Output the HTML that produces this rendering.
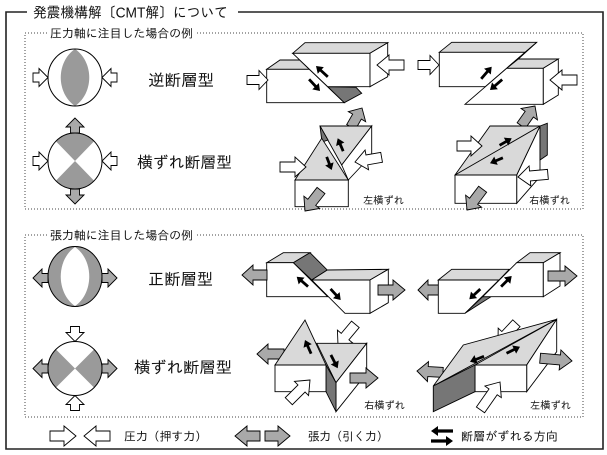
<!DOCTYPE html>
<html><head><meta charset="utf-8">
<style>
html,body{margin:0;padding:0;background:#fff;}
svg{display:block;}
text{font-family:"Liberation Sans","IPAGothic","Noto Sans CJK JP",sans-serif;fill:#111;}
.w{fill:#fff;stroke:#000;stroke-width:0.9;stroke-linejoin:miter;}
.lg{fill:#d9d9d9;stroke:#000;stroke-width:0.9;}
.dk{fill:#767676;stroke:#000;stroke-width:0.9;}
.ga{fill:#a9a9a9;stroke:#000;stroke-width:0.9;}
.bb{fill:#9a9a9a;}
.bk{fill:#000;}
</style></head><body>
<svg width="607" height="455" viewBox="0 0 607 455" xmlns="http://www.w3.org/2000/svg">
<rect width="607" height="455" fill="#fff"/>
<!-- Frame -->
<path d="M27,12 H6 V449 H603 V12 H238" fill="none" stroke="#222" stroke-width="1.6"/>
<text x="33" y="17.5" font-size="14.5" textLength="195" lengthAdjust="spacingAndGlyphs">発震機構解〔CMT解〕について</text>

<!-- Dotted boxes -->
<path d="M47,33 H25 V209 H583 V33 H197" fill="none" stroke="#444" stroke-width="1" stroke-dasharray="1 2"/>
<text x="50" y="37.4" font-size="12" textLength="143" lengthAdjust="spacingAndGlyphs">圧力軸に注目した場合の例</text>
<path d="M47,235 H25 V417 H583 V235 H197" fill="none" stroke="#444" stroke-width="1" stroke-dasharray="1 2"/>
<text x="50" y="239.4" font-size="12" textLength="143" lengthAdjust="spacingAndGlyphs">張力軸に注目した場合の例</text>

<!-- Ball 1: reverse -->
<ellipse cx="75" cy="77.5" rx="27" ry="28.5" fill="#fff"/>
<path class="bb" d="M75,49 C56,62 56,93 75,106 C94,93 94,62 75,49 Z"/>
<ellipse cx="75" cy="77.5" rx="27" ry="28.5" fill="none" stroke="#000" stroke-width="1"/>
<polygon class="w" points="0,0 -9,-9 -9,-4.5 -15,-4.5 -15,4.5 -9,4.5 -9,9" transform="translate(48,77.5)"/>
<polygon class="w" points="0,0 -9,-9 -9,-4.5 -15,-4.5 -15,4.5 -9,4.5 -9,9" transform="translate(102,77.5) rotate(180)"/>
<text x="148" y="86" font-size="16.5" textLength="66" lengthAdjust="spacingAndGlyphs">逆断層型</text>

<!-- Ball 2: strike-slip (pressure) -->
<ellipse cx="75" cy="161" rx="27" ry="28" fill="#fff"/>
<path class="bb" d="M75,161 L55.9,141.2 A27,28 0 0,1 94.1,141.2 Z"/>
<path class="bb" d="M75,161 L94.1,180.8 A27,28 0 0,1 55.9,180.8 Z"/>
<ellipse cx="75" cy="161" rx="27" ry="28" fill="none" stroke="#000" stroke-width="1"/>
<polygon class="w" points="0,0 -9,-9 -9,-4.5 -15,-4.5 -15,4.5 -9,4.5 -9,9" transform="translate(48,161)"/>
<polygon class="w" points="0,0 -9,-9 -9,-4.5 -15,-4.5 -15,4.5 -9,4.5 -9,9" transform="translate(102,161) rotate(180)"/>
<polygon class="ga" points="0,0 -9,-9 -9,-4.5 -15,-4.5 -15,4.5 -9,4.5 -9,9" transform="translate(75,118) rotate(-90)"/>
<polygon class="ga" points="0,0 -9,-9 -9,-4.5 -15,-4.5 -15,4.5 -9,4.5 -9,9" transform="translate(75,204) rotate(90)"/>
<text x="137" y="168" font-size="16" textLength="95" lengthAdjust="spacingAndGlyphs">横ずれ断層型</text>

<!-- Ball 3: normal -->
<ellipse cx="75" cy="276.5" rx="27" ry="30" class="bb"/>
<path fill="#fff" d="M75,247 C56,260 56,293 75,306 C94,293 94,260 75,247 Z"/>
<ellipse cx="75" cy="276.5" rx="27" ry="30" fill="none" stroke="#000" stroke-width="1"/>
<polygon class="ga" points="0,0 -9,-9 -9,-4.5 -15,-4.5 -15,4.5 -9,4.5 -9,9" transform="translate(33,278) rotate(180)"/>
<polygon class="ga" points="0,0 -9,-9 -9,-4.5 -15,-4.5 -15,4.5 -9,4.5 -9,9" transform="translate(117,278)"/>
<text x="148" y="285" font-size="16.5" textLength="65" lengthAdjust="spacingAndGlyphs">正断層型</text>

<!-- Ball 4: strike-slip (tension) -->
<ellipse cx="75" cy="368.5" rx="27" ry="27" fill="#fff"/>
<path class="bb" d="M75,368.5 L55.9,387.6 A27,27 0 0,1 55.9,349.4 Z"/>
<path class="bb" d="M75,368.5 L94.1,349.4 A27,27 0 0,1 94.1,387.6 Z"/>
<ellipse cx="75" cy="368.5" rx="27" ry="27" fill="none" stroke="#000" stroke-width="1"/>
<polygon class="w" points="0,0 -9,-9 -9,-4.5 -15,-4.5 -15,4.5 -9,4.5 -9,9" transform="translate(75,341.5) rotate(90)"/>
<polygon class="w" points="0,0 -9,-9 -9,-4.5 -15,-4.5 -15,4.5 -9,4.5 -9,9" transform="translate(75,395.5) rotate(-90)"/>
<polygon class="ga" points="0,0 -9,-9 -9,-4.5 -15,-4.5 -15,4.5 -9,4.5 -9,9" transform="translate(33,368.5) rotate(180)"/>
<polygon class="ga" points="0,0 -9,-9 -9,-4.5 -15,-4.5 -15,4.5 -9,4.5 -9,9" transform="translate(117,368.5)"/>
<text x="134" y="373" font-size="16" textLength="98" lengthAdjust="spacingAndGlyphs">横ずれ断層型</text>

<!-- Block A: reverse fault (left) -->
<polygon class="lg" points="266.7,69.3 280,60 299.7,60 309.3,69.3"/>
<polygon class="w" points="266.7,69.3 309.3,69.3 344.3,102.7 266.7,102.7"/>
<polygon class="dk" points="327.7,86.7 356,87.3 361.7,93.3 344.3,102.7"/>
<polygon class="lg" points="292.7,53.3 305,42.7 387.7,42.7 370,53.3"/>
<polygon class="w" points="292.7,53.3 370,53.3 370,86.7 327.7,86.7"/>
<polygon class="w" points="370,53.3 387.7,42.7 387.7,76.7 370,86.7"/>
<polygon class="w" points="0,0 -9,-9.5 -9,-4.5 -21,-4.5 -21,4.5 -9,4.5 -9,9.5" transform="translate(268,80)"/>
<polygon class="w" points="0,0 -12,-10 -12,-5 -27,-5 -27,5 -12,5 -12,10" transform="translate(377,65) rotate(180)"/>
<polygon class="bk" points="0,0 -6.5,-4.5 -6.5,-1.4 -16,-1.4 -16,1.4 -6.5,1.4 -6.5,4.5" transform="translate(316,66) rotate(-137.5)"/>
<polygon class="bk" points="0,0 -6.5,-4.5 -6.5,-1.4 -16,-1.4 -16,1.4 -6.5,1.4 -6.5,4.5" transform="translate(320,91) rotate(47)"/>

<!-- Block B: reverse fault (right) -->
<polygon class="lg" points="439.3,52.3 451.7,42.3 536.7,42.3 525,52.3"/>
<polygon class="w" points="439.3,52.3 525,52.3 485.3,86.7 439.3,86.7"/>
<polygon class="dk" points="536.7,42.3 506.7,68.3 518.3,59"/>
<polygon class="lg" points="506.7,68.3 518.3,59 558.3,59 543.3,68.3"/>
<polygon class="w" points="506.7,68.3 543.3,68.3 543.3,104.3 465,104.3"/>
<polygon class="w" points="543.3,68.3 558.3,59 558.3,95 543.3,104.3"/>
<polygon class="w" points="0,0 -9,-9.5 -9,-4.5 -21,-4.5 -21,4.5 -9,4.5 -9,9.5" transform="translate(439,65)"/>
<polygon class="w" points="0,0 -12,-10 -12,-5 -27,-5 -27,5 -12,5 -12,10" transform="translate(550,80) rotate(180)"/>
<polygon class="bk" points="0,0 -6.5,-4.5 -6.5,-1.4 -16,-1.4 -16,1.4 -6.5,1.4 -6.5,4.5" transform="translate(491.7,66.7) rotate(-49)"/>
<polygon class="bk" points="0,0 -6.5,-4.5 -6.5,-1.4 -16,-1.4 -16,1.4 -6.5,1.4 -6.5,4.5" transform="translate(490,90) rotate(139.5)"/>

<!-- Block C: left-lateral (pressure) -->
<polygon class="ga" points="0,0 -10,-10 -10,-5 -22,-5 -22,5 -10,5 -10,10" transform="translate(362,108) rotate(-60)"/>
<polygon class="lg" points="320,126 371.7,126 341.7,165"/>
<polygon class="w" points="341.7,165 371.7,126 371.7,155 348.3,180"/>
<polygon class="dk" points="320,126 328,140 322,142"/>
<polygon class="lg" points="295,180 321.7,138.3 348.3,180"/>
<polygon class="w" points="295,180 348.3,180 348.3,206.7 295,206.7"/>
<polygon class="ga" points="0,0 -11,-10 -11,-5 -26,-5 -26,5 -11,5 -11,10" transform="translate(305,211) rotate(128)"/>
<polygon class="w" points="0,0 -11,-10 -11,-5 -26,-5 -26,5 -11,5 -11,10" transform="translate(306,167)"/>
<polygon class="w" points="0,0 -12,-10 -12,-5 -27,-5 -27,5 -12,5 -12,10" transform="translate(355,162) rotate(170)"/>
<polygon class="bk" points="0,0 -6.5,-4.5 -6.5,-1.4 -14,-1.4 -14,1.4 -6.5,1.4 -6.5,4.5" transform="translate(337.7,138.3) rotate(-113)"/>
<polygon class="bk" points="0,0 -6.5,-4.5 -6.5,-1.4 -14,-1.4 -14,1.4 -6.5,1.4 -6.5,4.5" transform="translate(331.7,170) rotate(69)"/>
<text x="363" y="204" font-size="10.5" textLength="41" lengthAdjust="spacingAndGlyphs">左横ずれ</text>

<!-- Block D: right-lateral (pressure) -->
<polygon class="ga" points="0,0 -10,-10 -10,-5 -24,-5 -24,5 -10,5 -10,10" transform="translate(535,106) rotate(-55)"/>
<polygon class="w" points="516.7,175 540,126 540,176.7 516.7,203.3"/>
<polygon class="dk" points="540,126 547.3,123.3 547.3,155 540,160"/>
<polygon class="lg" points="455,175 490,126 540,126 516.7,175"/>
<line x1="455" y1="175" x2="540" y2="126" stroke="#000" stroke-width="0.9"/>
<polygon class="w" points="455,175 516.7,175 516.7,203.3 455,203.3"/>
<polygon class="ga" points="0,0 -11,-10 -11,-5 -26,-5 -26,5 -11,5 -11,10" transform="translate(467,210) rotate(127)"/>
<polygon class="w" points="0,0 -11,-10 -11,-5 -25,-5 -25,5 -11,5 -11,10" transform="translate(482,146)"/>
<polygon class="w" points="0,0 -12,-10 -12,-5 -30,-5 -30,5 -12,5 -12,10" transform="translate(518,177) rotate(175)"/>
<polygon class="bk" points="0,0 -6.5,-4.5 -6.5,-1.4 -14,-1.4 -14,1.4 -6.5,1.4 -6.5,4.5" transform="translate(511.7,138.3) rotate(-30)"/>
<polygon class="bk" points="0,0 -6.5,-4.5 -6.5,-1.4 -14,-1.4 -14,1.4 -6.5,1.4 -6.5,4.5" transform="translate(490,163.3) rotate(157)"/>
<text x="529" y="204" font-size="10.5" textLength="41" lengthAdjust="spacingAndGlyphs">右横ずれ</text>

<!-- Block E: normal fault (left) -->
<polygon class="lg" points="266.7,262.7 283.3,252.7 310,252.7 293.3,262.7"/>
<polygon class="dk" points="293.3,262.7 310,252.7 327.3,270 311.7,280"/>
<polygon class="w" points="266.7,262.7 293.3,262.7 327.7,296.7 266.7,296.7"/>
<polygon class="lg" points="311.7,280 327.3,270 388.3,269.3 370,280"/>
<polygon class="w" points="311.7,280 370,280 370,313.3 345,313.3"/>
<polygon class="w" points="370,280 388.3,269.3 388.3,302.7 370,313.3"/>
<polygon class="ga" points="0,0 -11,-10 -11,-5 -25,-5 -25,5 -11,5 -11,10" transform="translate(242,275) rotate(180)"/>
<polygon class="ga" points="0,0 -12,-10 -12,-5 -27,-5 -27,5 -12,5 -12,10" transform="translate(405,290)"/>
<polygon class="bk" points="0,0 -6.5,-4.5 -6.5,-1.4 -15,-1.4 -15,1.4 -6.5,1.4 -6.5,4.5" transform="translate(296.7,276.7) rotate(-139)"/>
<polygon class="bk" points="0,0 -6.5,-4.5 -6.5,-1.4 -15,-1.4 -15,1.4 -6.5,1.4 -6.5,4.5" transform="translate(340.7,300) rotate(47.5)"/>

<!-- Block F: normal fault (right) -->
<polygon class="ga" points="0,0 -10,-10 -10,-5 -22,-5 -22,5 -10,5 -10,10" transform="translate(418,290) rotate(180)"/>
<polygon class="lg" points="438.3,280 451.7,269.3 509.3,269.3 499,280"/>
<polygon class="w" points="438.3,280 499,280 465,313.3 438.3,313.3"/>
<polygon class="dk" points="465,313.3 482.7,296.7 491,296.7"/>
<polygon class="lg" points="516.7,262.7 530,252.7 560,252.7 543.3,262.7"/>
<polygon class="w" points="516.7,262.7 543.3,262.7 543.3,296.7 482.7,296.7"/>
<polygon class="w" points="543.3,262.7 560,252.7 560,286 543.3,296.7"/>
<polygon class="ga" points="0,0 -12,-10 -12,-5 -29,-5 -29,5 -12,5 -12,10" transform="translate(577,276)"/>
<polygon class="bk" points="0,0 -6.5,-4.5 -6.5,-1.4 -15,-1.4 -15,1.4 -6.5,1.4 -6.5,4.5" transform="translate(511.7,276) rotate(-45)"/>
<polygon class="bk" points="0,0 -6.5,-4.5 -6.5,-1.4 -15,-1.4 -15,1.4 -6.5,1.4 -6.5,4.5" transform="translate(469.3,299.3) rotate(137)"/>

<!-- Block G: right-lateral (tension) -->
<polygon class="ga" points="0,0 -11,-10 -11,-5 -27,-5 -27,5 -11,5 -11,10" transform="translate(257,354) rotate(180)"/>
<polygon class="w" points="0,0 -11,-10 -11,-5 -27,-5 -27,5 -11,5 -11,10" transform="translate(338,345) rotate(130)"/>
<polygon class="lg" points="316.7,343.3 366.7,343.3 336,382.7"/>
<polygon class="w" points="336,382.7 366.7,343.3 366.7,373.3 336,411.7"/>
<polygon class="dk" points="326,365 336,382.7 336,411.7 326,391.7"/>
<polygon class="lg" points="275,365 305,320 326,365"/>
<polygon class="w" points="275,365 326,365 326,391.7 275,391.7"/>
<polygon class="ga" points="0,0 -12,-10 -12,-5 -28,-5 -28,5 -12,5 -12,10" transform="translate(378,378)"/>
<polygon class="w" points="0,0 -12,-10 -12,-5 -30,-5 -30,5 -12,5 -12,10" transform="translate(310,380) rotate(-45)"/>
<polygon class="bk" points="0,0 -6.5,-4.5 -6.5,-1.4 -15,-1.4 -15,1.4 -6.5,1.4 -6.5,4.5" transform="translate(305,340) rotate(-114)"/>
<polygon class="bk" points="0,0 -6.5,-4.5 -6.5,-1.4 -15,-1.4 -15,1.4 -6.5,1.4 -6.5,4.5" transform="translate(337.7,368.3) rotate(63)"/>
<text x="364" y="409" font-size="10.5" textLength="41" lengthAdjust="spacingAndGlyphs">右横ずれ</text>

<!-- Block H: left-lateral (tension) -->
<polygon class="ga" points="0,0 -11,-10 -11,-5 -26,-5 -26,5 -11,5 -11,10" transform="translate(417,371) rotate(183)"/>
<polygon class="w" points="0,0 -11,-10 -11,-5 -27,-5 -27,5 -11,5 -11,10" transform="translate(498,343) rotate(133)"/>
<polygon class="lg" points="433.3,386 463.3,345 556.7,319.3"/>
<polygon class="lg" points="475,365 526.7,365 556.7,319.3"/>
<polygon class="w" points="526.7,365 556.7,319.3 556.7,351.7 526.7,391.7"/>
<polygon class="w" points="475,365 526.7,365 526.7,391.7 475,391.7"/>
<polygon class="dk" points="433.3,386 475,365 475,391.7 433.3,411.7"/>
<polygon class="ga" points="0,0 -12,-10 -12,-5 -32,-5 -32,5 -12,5 -12,10" transform="translate(572,361) rotate(5)"/>
<polygon class="w" points="0,0 -12,-10 -12,-5 -34,-5 -34,5 -12,5 -12,10" transform="translate(500,382) rotate(-55)"/>
<polygon class="bk" points="0,0 -6.5,-4.5 -6.5,-1.4 -15,-1.4 -15,1.4 -6.5,1.4 -6.5,4.5" transform="translate(470,361.7) rotate(159)"/>
<polygon class="bk" points="0,0 -6.5,-4.5 -6.5,-1.4 -15,-1.4 -15,1.4 -6.5,1.4 -6.5,4.5" transform="translate(520,346.7) rotate(-26)"/>
<text x="530" y="409" font-size="10.5" textLength="41" lengthAdjust="spacingAndGlyphs">左横ずれ</text>

<!-- Legend -->
<polygon class="w" points="0,0 -12,-10 -12,-5 -26,-5 -26,5 -12,5 -12,10" transform="translate(76,436)"/>
<polygon class="w" points="0,0 -12,-10 -12,-5 -26,-5 -26,5 -12,5 -12,10" transform="translate(84,436) rotate(180)"/>
<text x="124" y="440.4" font-size="12" textLength="83" lengthAdjust="spacingAndGlyphs">圧力（押す力）</text>
<polygon class="ga" points="0,0 -12,-10 -12,-5 -25,-5 -25,5 -12,5 -12,10" transform="translate(235,436) rotate(180)"/>
<polygon class="ga" points="0,0 -12,-10 -12,-5 -25,-5 -25,5 -12,5 -12,10" transform="translate(290,436)"/>
<text x="308" y="440.4" font-size="12" textLength="80" lengthAdjust="spacingAndGlyphs">張力（引く力）</text>
<polygon class="bk" points="0,0 -7,-5 -7,-1.6 -22,-1.6 -22,1.6 -7,1.6 -7,5" transform="translate(431,431) rotate(180)"/>
<polygon class="bk" points="0,0 -7,-5 -7,-1.6 -22,-1.6 -22,1.6 -7,1.6 -7,5" transform="translate(453,441)"/>
<text x="461" y="440.4" font-size="12" textLength="97" lengthAdjust="spacingAndGlyphs">断層がずれる方向</text>
</svg>
</body></html>
